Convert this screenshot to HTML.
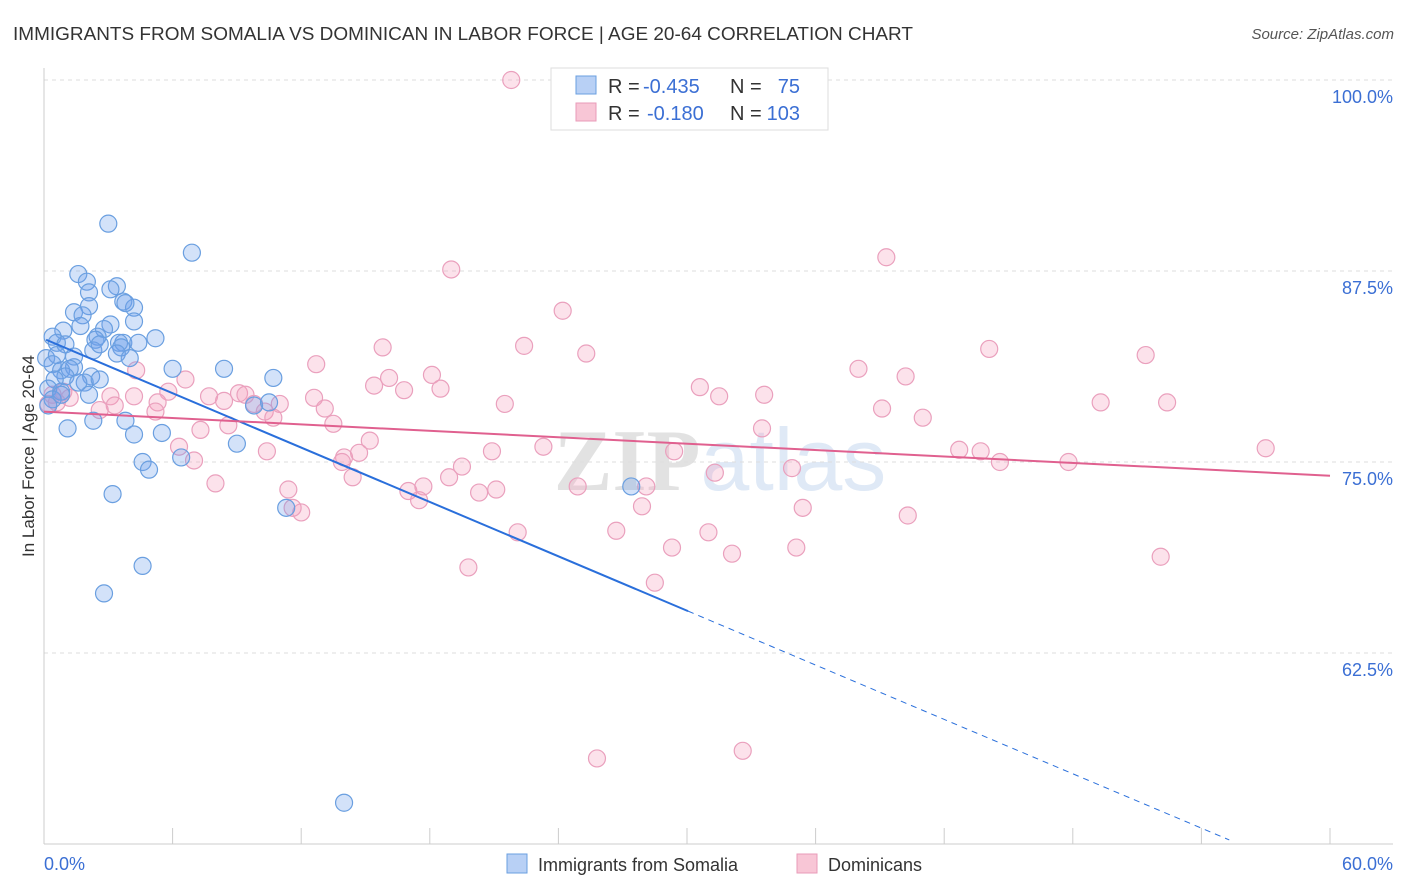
<!DOCTYPE html>
<html><head><meta charset="utf-8">
<style>
body{margin:0;background:#fff;font-family:"Liberation Sans",sans-serif;}
#wrap{position:relative;width:1406px;height:892px;overflow:hidden;}
</style></head>
<body>
<div id="wrap">
<svg id="chart" width="1406" height="892" xmlns="http://www.w3.org/2000/svg">
  <text x="13" y="40" font-size="18" fill="#333" textLength="900" lengthAdjust="spacingAndGlyphs">IMMIGRANTS FROM SOMALIA VS DOMINICAN IN LABOR FORCE | AGE 20-64 CORRELATION CHART</text>
  <text x="1394" y="39" font-size="15" fill="#555" font-style="italic" text-anchor="end">Source: ZipAtlas.com</text>
  <text x="720" y="490" font-size="88" fill="#e2e2e2" text-anchor="middle" font-family="Liberation Serif,serif" font-weight="bold">ZIP<tspan fill="#dfe9f6" font-family="Liberation Sans,sans-serif" font-weight="normal">atlas</tspan></text>
  <g id="grid"></g>
  <g id="axes"></g>
  <g id="pts"></g>
  <g id="trends"></g>
  <text transform="translate(34,456) rotate(-90)" font-size="17" fill="#333" text-anchor="middle">In Labor Force | Age 20-64</text>
  <g>
    <rect x="551" y="68" width="277" height="62" fill="#fff" stroke="#ddd"/>
    <rect x="576" y="76" width="20" height="18" fill="#b8d0f5" stroke="#6a9fe0"/>
    <text x="608" y="93" font-size="20" fill="#333">R =</text>
    <text x="643" y="93" font-size="20" fill="#3b6fd4">-0.435</text>
    <text x="730" y="93" font-size="20" fill="#333">N =</text>
    <text x="800" y="93" font-size="20" fill="#3b6fd4" text-anchor="end">75</text>
    <rect x="576" y="103" width="20" height="18" fill="#f8c6d6" stroke="#e99bb8"/>
    <text x="608" y="120" font-size="20" fill="#333">R =</text>
    <text x="647" y="120" font-size="20" fill="#3b6fd4">-0.180</text>
    <text x="730" y="120" font-size="20" fill="#333">N =</text>
    <text x="800" y="120" font-size="20" fill="#3b6fd4" text-anchor="end">103</text>
  </g>
  <g>
    <rect x="507" y="854" width="20" height="19" fill="#b8d0f5" stroke="#6a9fe0"/>
    <text x="538" y="871" font-size="18" fill="#333">Immigrants from Somalia</text>
    <rect x="797" y="854" width="20" height="19" fill="#f8c6d6" stroke="#e99bb8"/>
    <text x="828" y="871" font-size="18" fill="#333">Dominicans</text>
  </g>
</svg>
</div>
<script>
const xTickVals=[0,6,12,18,24,30,36,42,48,54,60];
const yTickVals=[100,87.5,75,62.5];
const yTickLabels=["100.0%","87.5%","75.0%","62.5%"];
const xEndLabels=["0.0%","60.0%"];
const blueX=[3.0,6.9,1.6,2.0,3.4,3.1,2.1,3.7,4.2,3.8,2.1,1.4,1.8,4.2,1.7,3.1,2.8,0.9,0.4,2.5,2.4,5.2,3.7,3.5,3.6,4.4,0.6,1.0,2.3,2.6,3.4,4.0,0.1,0.6,1.4,0.4,0.8,1.4,1.2,6.0,8.4,1.0,2.2,10.7,1.9,0.5,0.2,1.6,2.1,0.8,0.4,9.8,10.5,3.8,2.3,1.1,4.2,5.5,9.0,6.4,4.6,4.9,3.2,11.3,27.4,4.6,2.8,14.0,0.2,0.8,2.6];
const blueY=[90.6,88.7,87.3,86.8,86.5,86.3,86.1,85.5,85.1,85.4,85.2,84.8,84.6,84.2,83.9,84.0,83.7,83.6,83.2,83.2,83.0,83.1,82.8,82.8,82.5,82.8,82.8,82.7,82.3,82.7,82.1,81.8,81.8,82.0,81.9,81.4,81.0,81.2,81.1,81.1,81.1,80.6,80.6,80.5,80.2,80.4,79.8,80.2,79.4,79.6,79.1,78.7,78.9,77.7,77.7,77.2,76.8,76.9,76.2,75.3,75.0,74.5,72.9,72.0,73.4,68.2,66.4,52.7,78.7,79.4,80.4];
const pinkX=[21.8,19.0,39.3,24.2,15.8,22.4,25.3,44.1,51.4,12.7,38.0,4.3,40.2,6.6,18.1,16.1,15.4,16.8,18.5,30.6,33.6,31.5,7.7,9.1,9.4,5.8,12.6,21.5,39.1,49.3,52.4,0.9,0.4,1.2,3.1,4.2,5.3,3.3,8.4,9.8,11.0,10.3,13.1,5.2,2.6,41.0,10.7,13.5,8.6,7.3,33.5,15.2,23.3,42.7,43.7,57.0,6.3,10.4,20.9,29.4,14.0,14.7,13.9,44.6,47.8,7.0,19.5,31.3,14.4,18.9,34.9,8.0,24.9,28.1,17.0,17.7,11.4,20.3,21.1,17.5,27.9,35.4,12.0,11.6,40.3,22.1,26.7,31.0,29.3,35.1,32.1,52.1,19.8,28.5,32.6,25.8,0.2,0.6];
const pinkY=[100.0,87.6,88.4,84.9,82.5,82.6,82.1,82.4,82.0,81.4,81.1,81.0,80.6,80.4,80.7,80.5,80.0,79.7,79.8,79.9,79.4,79.3,79.3,79.5,79.4,79.6,79.2,78.8,78.5,78.9,78.9,79.6,79.4,79.2,79.3,79.3,78.9,78.7,79.0,78.8,78.8,78.3,78.5,78.3,78.4,77.9,77.9,77.5,77.4,77.1,77.2,76.4,76.0,75.8,75.7,75.9,76.0,75.7,75.7,75.7,75.3,75.6,75.0,75.0,75.0,75.1,74.7,74.3,74.0,74.0,74.6,73.6,73.4,73.4,73.1,73.4,73.2,73.0,73.2,72.5,72.1,72.0,71.7,72.0,71.5,70.4,70.5,70.4,69.4,69.4,69.0,68.8,68.1,67.1,56.1,55.6,78.8,78.9];
const blueTrend=[83.06,-0.593];
const blueSolidEnd=30.05, blueDashEnd=55.3;
const pinkTrend=[78.3,-0.07];

const NS="http://www.w3.org/2000/svg";
const X0=44,X1=1330,YB=844;
function xs(v){return X0+(v/60)*(X1-X0);}
function ys(v){return 80+(100-v)*15.28;}
function mk(tag,attrs,parent){const e=document.createElementNS(NS,tag);for(const k in attrs)e.setAttribute(k,attrs[k]);parent.appendChild(e);return e;}

const grid=document.getElementById('grid');
yTickVals.forEach((v,i)=>{
  const l=mk('line',{x1:X0,x2:1393,y1:ys(v),y2:ys(v),stroke:'#ddd','stroke-dasharray':'4,4'},grid);
  
  
  const t=mk('text',{x:1393,y:ys(v)+23,'font-size':18,fill:'#3b6fd4','text-anchor':'end'},grid);
  t.textContent=yTickLabels[i];
  
  
});
const axes=document.getElementById('axes');
let a=mk('line',{x1:X0,x2:X0,y1:68,y2:YB,stroke:'#ccc'},axes);


a=mk('line',{x1:X0,x2:1393,y1:YB,y2:YB,stroke:'#ccc'},axes);


xTickVals.forEach(v=>{
  const t=mk('line',{x1:xs(v),x2:xs(v),y1:828,y2:YB,stroke:'#ccc'},axes);
  
  
});
let tl=mk('text',{x:44,y:870,'font-size':18,fill:'#3b6fd4'},axes);
tl.textContent=xEndLabels[0];


tl=mk('text',{x:1393,y:870,'font-size':18,fill:'#3b6fd4','text-anchor':'end'},axes);
tl.textContent=xEndLabels[1];



const pts=document.getElementById('pts');
pinkX.forEach((x,i)=>{
  const c=mk('circle',{cx:xs(x),cy:ys(pinkY[i]),r:8.5,fill:'rgba(244,160,190,0.3)',stroke:'#eaa0bd','stroke-width':1.2},pts);
  
  
});
blueX.forEach((x,i)=>{
  const c=mk('circle',{cx:xs(x),cy:ys(blueY[i]),r:8.5,fill:'rgba(110,160,235,0.3)',stroke:'#6a9fe0','stroke-width':1.2},pts);
  
  
});
const tr=document.getElementById('trends');
function by(x){return blueTrend[0]+blueTrend[1]*x;}
let ln=mk('line',{x1:xs(0.1),y1:ys(by(0.1)),x2:xs(blueSolidEnd),y2:ys(by(blueSolidEnd)),stroke:'#2a6fdb','stroke-width':2},tr);


ln=mk('line',{x1:xs(blueSolidEnd),y1:ys(by(blueSolidEnd)),x2:xs(blueDashEnd),y2:ys(by(blueDashEnd)),stroke:'#2a6fdb','stroke-width':1,'stroke-dasharray':'6,5'},tr);


ln=mk('line',{x1:xs(0),y1:ys(pinkTrend[0]),x2:xs(60),y2:ys(pinkTrend[0]+pinkTrend[1]*60),stroke:'#e0608f','stroke-width':2},tr);


</script>
</body></html>
